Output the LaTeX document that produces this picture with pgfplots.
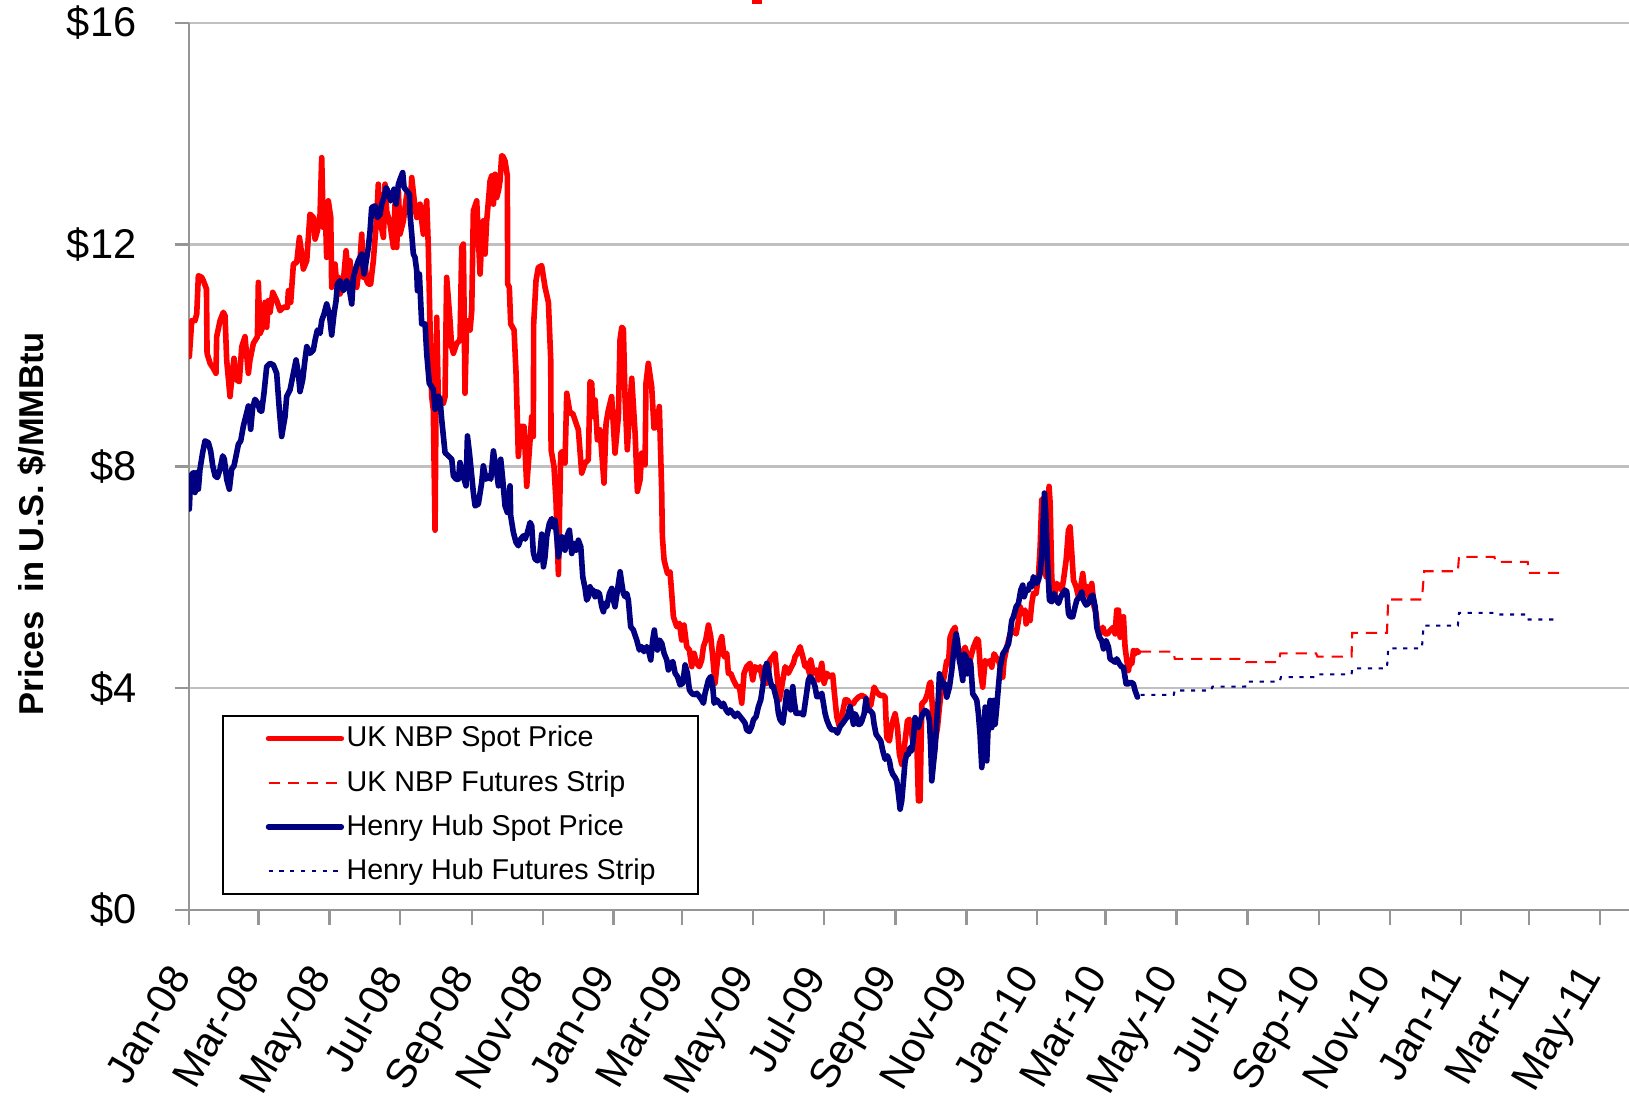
\documentclass[border=0pt]{standalone}
\usepackage{fontspec}
\setmainfont{Liberation Sans}
\usepackage{pgfplots}
\pgfplotsset{compat=1.18}
\definecolor{nbpred}{RGB}{255,0,0}
\definecolor{hhnavy}{RGB}{0,0,128}
\definecolor{gridgray}{RGB}{192,192,192}
\definecolor{axisgray}{RGB}{150,150,150}
\begin{document}
\begin{tikzpicture}
\useasboundingbox (-45.5pt,-45.25pt) rectangle (346.5pt,219pt);
\fill[nbpred] (135.5pt,218pt) rectangle (137.75pt,219.5pt);
\begin{axis}[
  at={(0pt,0pt)}, anchor=south west,
  scale only axis, width=346.5pt, height=213.5pt,
  xmin=0, xmax=1241, ymin=0, ymax=16,
  axis x line*=bottom, axis y line*=left,
  axis line style={-, draw=axisgray, line width=0.6pt},
  ytick={0,4,8,12,16},
  yticklabels={\$0,\$4,\$8,\$12,\$16},
  xtick={0,60,121,182,244,305,366,425,486,547,609,670,731,790,851,912,974,1035,1096,1155,1216},
  xticklabels={Jan-08,Mar-08,May-08,Jul-08,Sep-08,Nov-08,Jan-09,Mar-09,May-09,Jul-09,Sep-09,Nov-09,Jan-10,Mar-10,May-10,Jul-10,Sep-10,Nov-10,Jan-11,Mar-11,May-11},
  tick align=outside, major tick length=3.5pt,
  tick style={draw=axisgray, line width=0.6pt},
  ymajorgrids, grid style={draw=gridgray, line width=0.6pt},
  yticklabel style={font=\fontsize{10}{12}\selectfont, anchor=east, inner sep=0pt},
  yticklabel shift=9pt,
  xticklabel style={font=\fontsize{10}{12}\selectfont, xshift=-5.5pt, rotate=60, anchor=north east, inner sep=0pt},
  xticklabel shift=8.75pt,
  legend style={at={(0.0231,0.2201)}, anchor=north west, draw=black, line width=0.5pt, fill=white,
    font=\fontsize{6.9}{8}\selectfont, inner xsep=10.2pt, inner ysep=1.5pt, row sep=2.6pt,
    nodes={inner sep=0pt, text height=6pt, text depth=2pt},
    /tikz/every odd column/.append style={column sep=0.6pt}},
  legend cell align=left,
  legend image code/.code={\draw[#1] (0pt,0pt) -- (17.5pt,0pt);},
  clip=true,
]
% UK NBP spot
\addplot[nbpred, line width=1.35pt, line join=round, line cap=round] coordinates {
(0.2,9.98)(2.3,10.63)(5.1,10.63)(6.6,10.75)(8.0,11.44)(10.9,11.41)(12.3,11.35)(15.0,11.20)(15.5,10.04)(18.1,9.86)
(20.9,9.77)(23.2,9.68)(23.8,10.34)(26.7,10.63)(29.5,10.78)(31.0,10.72)(32.4,9.92)(35.3,9.26)(36.7,9.56)(38.7,9.95)
(41.0,9.56)(43.3,9.53)(45.4,10.16)(48.2,10.34)(51.1,9.68)(52.5,9.92)(55.4,10.22)(58.9,10.34)(59.7,11.32)(61.2,10.40)
(64.0,10.54)(65.5,10.96)(66.9,10.51)(68.3,10.99)(69.8,10.78)(72.1,11.14)(75.5,10.99)(78.4,10.81)(81.3,10.87)(84.7,10.87)
(85.6,11.17)(87.6,10.96)(89.9,11.65)(92.8,11.68)(95.1,12.13)(97.1,11.83)(98.5,11.56)(101.4,11.71)(102.8,12.13)(104.2,12.55)
(107.1,12.49)(108.6,12.10)(110.6,12.25)(112.9,12.55)(114.3,13.57)(115.7,12.31)(117.2,12.76)(118.6,11.77)(120.0,12.79)(122.1,12.49)
(122.9,11.23)(125.8,11.65)(127.2,11.29)(128.7,11.41)(130.1,11.11)(133.0,11.35)(135.3,11.89)(137.3,11.41)(138.7,11.71)(140.2,11.23)
(143.0,11.41)(144.5,11.23)(147.3,11.71)(148.8,12.19)(150.2,11.41)(151.7,11.65)(153.1,11.35)(154.5,11.29)(156.5,11.29)(158.8,11.71)
(161.7,12.49)(163.1,13.09)(164.6,12.43)(167.5,12.13)(168.9,13.09)(170.3,12.61)(173.2,12.37)(176.1,11.95)(177.5,12.73)(179.0,11.95)
(180.4,12.97)(181.8,12.19)(184.7,12.43)(187.6,12.91)(190.4,12.61)(191.9,13.21)(194.7,12.67)(196.2,12.49)(199.1,12.73)(200.5,12.43)
(201.9,12.19)(204.8,12.79)(206.2,11.95)(207.7,10.51)(209.1,9.26)(210.5,9.02)(212.0,6.85)(213.4,10.69)(214.9,9.14)(216.3,9.14)
(219.2,9.14)(220.6,9.26)(222.0,11.41)(224.9,10.63)(226.3,10.16)(227.8,10.04)(230.7,10.22)(233.5,10.28)(235.0,11.95)(236.4,12.01)
(237.8,9.32)(239.3,10.63)(242.2,10.46)(243.6,10.81)(245.0,12.61)(247.9,12.79)(249.3,12.13)(250.8,11.47)(252.2,12.07)(253.6,12.43)
(255.1,11.83)(256.5,12.43)(258.0,12.79)(259.4,13.15)(260.8,13.24)(262.3,12.73)(263.7,13.27)(265.1,12.85)(266.6,12.97)(268.0,13.15)
(269.4,13.60)(270.3,13.60)(272.3,13.51)(274.3,13.24)(274.6,11.29)(276.0,11.23)(277.2,10.57)(280.1,10.46)(281.8,9.68)(283.8,8.18)
(285.8,8.72)(288.7,8.72)(291.0,7.64)(293.3,8.30)(295.3,8.90)(296.7,8.54)(297.0,10.57)(299.0,11.35)(301.0,11.59)(303.9,11.62)
(306.8,11.23)(309.7,10.96)(311.7,9.92)(312.0,8.30)(314.5,8.00)(316.3,7.34)(318.3,6.05)(320.3,8.24)(322.0,8.27)(324.0,8.06)
(325.5,9.32)(328.3,8.96)(330.6,8.96)(335.5,8.66)(338.4,7.88)(341.3,8.06)(344.1,8.12)(345.6,9.53)(347.0,9.50)(348.4,8.90)
(349.9,9.20)(351.9,8.48)(354.2,8.66)(357.6,7.70)(359.4,8.78)(361.4,9.02)(364.2,9.26)(367.1,8.24)(370.0,8.90)(371.4,10.28)
(372.9,10.51)(374.3,10.48)(375.7,9.26)(377.7,8.30)(379.5,8.96)(381.5,9.59)(384.4,8.60)(386.4,7.55)(388.7,7.76)(390.1,8.24)
(393.0,8.03)(393.8,9.50)(395.8,9.86)(398.7,9.44)(400.7,8.69)(403.0,8.72)(405.3,9.08)(407.3,7.58)(407.9,6.74)(409.4,6.31)
(412.3,6.07)(414.5,6.10)(416.0,5.71)(417.4,5.29)(420.3,5.11)(422.6,5.17)(424.6,4.87)(426.6,5.14)(428.9,4.75)(431.2,4.69)
(433.2,4.39)(435.2,4.63)(437.5,4.45)(439.8,4.39)(441.8,4.51)(443.3,4.75)(445.3,4.87)(447.6,5.14)(449.6,4.93)(451.3,4.57)
(453.3,4.09)(454.8,4.39)(457.1,4.81)(459.1,4.93)(461.1,4.57)(463.4,4.63)(464.8,4.27)(466.8,4.27)(469.1,4.15)(472.0,4.03)
(474.3,4.03)(476.3,3.73)(478.3,4.27)(480.6,4.39)(483.5,4.45)(485.8,4.15)(487.8,4.39)(490.7,4.33)(492.1,4.39)(494.4,4.15)
(496.4,4.39)(497.9,4.09)(500.7,4.51)(503.0,4.57)(505.0,4.63)(507.1,4.15)(508.8,3.79)(510.8,4.03)(513.7,4.39)(516.5,4.27)
(518.5,4.36)(520.8,4.45)(522.3,4.57)(524.3,4.63)(526.6,4.75)(528.9,4.57)(530.9,4.39)(532.3,4.45)(534.6,4.27)(535.8,4.51)
(538.1,4.27)(540.4,4.33)(542.4,4.15)(545.3,4.45)(547.3,4.09)(549.6,4.27)(551.9,4.21)(554.7,4.24)(555.9,3.97)(558.2,3.49)
(560.5,3.31)(562.5,3.49)(565.4,3.79)(567.4,3.79)(569.7,3.72)(572.6,3.72)(574.0,3.78)(576.9,3.84)(579.8,3.87)(582.6,3.84)
(585.5,3.72)(587.5,3.69)(590.4,4.02)(592.7,3.93)(595.6,3.87)(598.4,3.87)(599.9,3.84)(601.3,3.11)(603.6,3.05)(605.6,3.35)
(608.5,3.54)(610.5,3.29)(612.2,2.81)(614.2,2.63)(615.7,2.81)(617.1,3.05)(619.1,3.41)(620.8,3.44)(622.9,3.17)(624.3,2.93)
(625.7,3.29)(627.2,3.05)(628.6,1.97)(630.0,1.97)(631.5,3.72)(634.3,3.78)(636.4,3.90)(638.1,4.08)(639.2,4.11)(641.0,3.54)
(643.0,3.05)(645.0,3.29)(646.7,3.66)(648.7,4.02)(650.7,4.20)(653.0,4.50)(654.5,4.44)(655.9,4.92)(658.2,5.04)(660.2,5.10)
(662.2,4.68)(664.5,4.50)(667.4,4.68)(668.8,4.74)(670.3,4.62)(671.7,4.38)(673.7,4.56)(676.0,4.74)(678.9,4.89)(680.3,4.86)
(682.3,4.26)(684.0,4.02)(686.1,4.50)(688.1,4.44)(690.4,4.50)(691.8,4.38)(693.8,4.62)(695.5,4.56)(697.5,4.50)(699.6,4.38)
(701.3,4.20)(702.4,4.50)(704.2,4.68)(706.2,4.86)(707.6,4.98)(710.5,5.04)(712.8,4.98)(714.8,5.22)(716.2,5.47)(718.5,5.35)
(720.5,5.41)(721.4,5.16)(723.4,5.29)(724.8,5.22)(726.3,5.53)(727.7,5.71)(730.0,5.71)(732.0,6.01)(733.5,6.55)(734.9,7.40)
(736.9,7.03)(738.6,6.01)(739.8,6.79)(741.2,7.64)(742.1,7.34)(743.5,6.01)(745.0,5.59)(746.4,5.71)(747.8,5.89)(750.1,5.83)
(752.1,5.77)(753.6,5.95)(755.9,6.31)(757.9,6.85)(759.3,6.91)(760.8,6.43)(762.2,5.95)(764.5,5.83)(766.5,5.65)(768.5,5.83)
(770.2,6.07)(772.2,5.71)(774.3,5.83)(776.0,5.59)(778.0,5.89)(780.0,5.47)(781.7,5.35)(782.9,5.10)(785.2,4.98)(787.5,5.10)
(789.5,4.98)(791.5,4.98)(793.8,5.04)(795.2,5.07)(796.7,5.10)(798.1,4.98)(799.5,5.41)(801.0,5.41)(802.4,4.92)(803.9,5.16)
(805.3,5.29)(806.7,4.74)(808.2,4.50)(809.6,4.32)(811.0,4.50)(812.5,4.44)(813.9,4.68)(815.3,4.62)(816.8,4.68)(818.2,4.65)
};
\addlegendentry{UK NBP Spot Price}
% UK NBP futures strip
\addplot[nbpred, line width=0.5pt, dash pattern=on 2.7pt off 1.9pt] coordinates {
(819.5,4.66)(848.6,4.66)(849.5,4.53)(910.2,4.53)(911,4.47)(939.3,4.47)(940.5,4.63)(971.3,4.63)(972.5,4.57)(1001.9,4.57)
(1002.5,5.00)(1032.4,5.00)(1033.5,5.60)(1062.5,5.60)(1064.5,6.11)(1093.5,6.11)(1094.5,6.37)(1125,6.37)(1126,6.28)(1153.7,6.28)
(1154.5,6.08)(1183,6.08)
};
\addlegendentry{UK NBP Futures Strip}
% Henry Hub spot
\addplot[hhnavy, line width=1.35pt, line join=round, line cap=round] coordinates {
(0.2,7.23)(1.4,7.83)(3.7,7.89)(5.1,7.53)(6.6,7.89)(8.0,7.59)(9.4,7.95)(11.7,8.25)(13.7,8.46)(16.6,8.43)
(18.6,8.28)(20.4,8.01)(22.4,7.83)(24.4,7.80)(26.7,7.95)(29.0,8.19)(30.4,8.13)(32.4,7.77)(34.7,7.59)(36.7,7.95)
(38.7,8.01)(40.5,8.19)(42.5,8.40)(44.5,8.46)(46.8,8.73)(49.7,8.97)(51.1,9.09)(53.1,8.67)(54.8,9.06)(56.8,9.21)
(58.9,9.15)(61.2,9.00)(62.6,9.00)(64.6,9.33)(66.9,9.80)(69.8,9.86)(72.6,9.83)(75.5,9.68)(77.8,9.02)(79.8,8.54)
(82.7,8.90)(84.1,9.26)(87.0,9.38)(89.9,9.68)(92.2,9.92)(94.2,9.68)(95.6,9.35)(97.9,9.56)(99.9,9.92)(101.4,10.16)
(104.2,10.04)(107.1,10.10)(108.6,10.28)(110.6,10.46)(112.9,10.40)(114.3,10.63)(116.3,10.75)(118.6,10.93)(120.9,10.75)(122.9,10.37)
(124.9,10.75)(126.7,10.99)(127.8,11.29)(130.1,11.35)(133.0,11.17)(135.9,11.35)(138.1,11.20)(140.2,10.93)(141.6,11.41)(143.9,11.59)
(145.9,11.71)(148.8,11.83)(150.8,11.47)(152.5,11.68)(154.5,11.95)(156.0,12.25)(157.4,12.67)(160.3,12.70)(162.3,12.49)(164.6,12.55)
(166.0,12.73)(168.0,12.85)(169.8,13.03)(171.8,12.94)(173.8,12.79)(175.5,12.85)(176.6,13.00)(178.4,12.73)(180.4,13.09)(182.4,13.21)
(184.1,13.30)(185.3,13.03)(187.6,12.97)(189.9,12.91)(190.4,12.55)(191.9,12.19)(193.3,11.83)(194.7,11.77)(196.2,11.53)(196.8,11.17)
(198.5,11.47)(200.5,10.57)(203.4,10.57)(204.8,10.04)(207.0,9.50)(210.5,9.39)(212.0,9.03)(214.9,9.27)(216.3,9.21)(217.7,8.85)
(220.6,8.25)(223.5,8.19)(226.4,8.13)(227.8,7.83)(230.1,7.77)(232.1,7.77)(233.5,8.07)(235.8,7.89)(237.0,7.77)(238.7,7.65)
(239.9,8.55)(241.6,8.25)(243.6,7.83)(245.0,7.53)(246.5,7.29)(249.3,7.32)(252.2,7.71)(253.6,8.01)(256.0,7.77)(258.0,7.83)
(260.0,7.77)(262.3,8.28)(263.7,8.07)(265.1,7.89)(266.6,7.65)(268.6,8.13)(270.3,7.77)(272.3,7.29)(274.3,7.17)(276.6,7.65)
(277.2,7.11)(279.5,6.81)(281.8,6.63)(283.8,6.57)(285.8,6.69)(288.1,6.75)(289.6,6.69)(291.6,6.81)(293.9,6.99)(295.3,6.93)
(296.7,6.45)(298.2,6.33)(300.2,6.30)(301.9,6.33)(303.9,6.78)(305.4,6.19)(306.8,6.37)(308.2,6.73)(310.5,6.97)(312.6,7.06)
(314.0,6.91)(315.4,7.03)(316.9,6.73)(318.3,6.37)(319.7,6.55)(321.2,6.73)(322.6,6.61)(324.0,6.49)(325.5,6.73)(327.8,6.85)
(329.8,6.43)(331.8,6.61)(333.5,6.49)(335.5,6.67)(337.6,6.55)(339.3,6.01)(341.3,5.80)(342.7,5.59)(344.2,5.65)(345.6,5.83)
(347.0,5.71)(348.5,5.77)(349.9,5.65)(351.3,5.74)(353.6,5.71)(355.7,5.47)(357.1,5.38)(358.5,5.53)(360.0,5.47)(362.3,5.71)
(364.3,5.80)(365.7,5.59)(367.1,5.47)(369.2,5.77)(371.5,6.10)(372.9,5.89)(374.3,5.71)(375.8,5.65)(377.2,5.71)(378.6,5.59)
(380.6,5.11)(382.9,5.05)(385.8,4.87)(388.1,4.69)(390.1,4.75)(392.1,4.66)(394.4,4.75)(395.9,4.69)(397.9,4.51)(399.6,4.87)
(401.0,5.05)(402.5,4.75)(403.6,4.69)(405.4,4.87)(407.4,4.81)(409.4,4.63)(411.7,4.51)(413.1,4.33)(415.1,4.45)(416.9,4.48)
(418.9,4.27)(420.9,4.21)(423.2,4.06)(425.5,4.09)(427.5,4.42)(429.5,4.27)(431.2,3.97)(433.2,3.91)(435.2,3.88)(437.5,3.91)
(439.8,3.85)(441.8,3.79)(443.3,3.73)(444.7,3.91)(446.2,4.03)(447.6,4.15)(449.6,4.21)(451.3,4.03)(452.5,3.73)(454.8,3.79)
(457.1,3.73)(459.1,3.67)(460.5,3.73)(462.8,3.61)(464.8,3.55)(466.3,3.61)(468.6,3.55)(470.6,3.49)(472.6,3.55)(474.9,3.49)
(477.2,3.43)(479.2,3.37)(480.6,3.25)(482.9,3.22)(484.9,3.31)(486.4,3.43)(488.7,3.49)(490.7,3.67)(492.7,3.79)(494.4,4.03)
(496.4,4.33)(497.9,4.45)(499.3,4.33)(500.7,4.15)(502.2,4.03)(503.6,4.03)(505.0,3.91)(506.5,3.79)(507.9,3.55)(509.4,3.43)
(511.7,3.37)(513.7,3.67)(515.1,3.94)(517.4,3.79)(518.5,3.61)(520.3,4.03)(521.4,3.79)(523.1,3.55)(525.2,3.55)(527.2,3.55)
(529.5,3.52)(531.8,3.85)(533.8,4.15)(535.2,4.21)(537.5,4.15)(539.5,4.03)(541.0,3.85)(543.3,3.85)(545.3,3.91)(546.7,3.73)
(548.1,3.55)(549.6,3.43)(551.9,3.31)(553.9,3.25)(556.8,3.25)(558.8,3.19)(561.1,3.31)(563.4,3.37)(565.4,3.43)(567.4,3.49)
(569.7,3.67)(572.6,3.35)(574.0,3.54)(575.4,3.48)(576.9,3.35)(578.3,3.35)(579.8,3.41)(581.8,3.54)(583.5,3.81)(584.6,3.60)
(586.9,3.60)(589.2,3.54)(590.4,3.35)(592.1,3.17)(594.1,3.11)(596.1,3.05)(597.9,2.87)(599.9,2.72)(601.9,2.78)(603.6,2.69)
(604.8,2.54)(606.5,2.45)(608.5,2.39)(609.9,2.33)(611.4,2.09)(612.8,1.82)(614.2,1.97)(615.7,2.33)(617.1,2.69)(618.5,2.81)
(620.0,2.81)(621.4,2.93)(622.9,2.87)(624.3,3.11)(625.7,3.47)(627.2,3.35)(628.6,3.29)(630.0,3.41)(632.3,3.54)(634.3,3.60)
(636.4,3.57)(638.1,3.41)(639.2,2.93)(640.1,2.33)(641.5,2.63)(643.0,2.93)(644.4,3.41)(645.8,3.84)(646.7,4.26)(648.7,4.14)
(650.1,4.02)(651.6,4.08)(653.0,3.84)(655.3,4.02)(657.3,4.32)(659.3,4.74)(661.1,4.98)(662.2,4.86)(663.9,4.50)(665.1,4.38)
(666.8,4.14)(668.0,4.62)(669.7,4.56)(670.8,4.26)(672.6,4.50)(673.7,4.44)(675.4,3.90)(677.4,3.84)(678.9,3.78)(680.3,3.54)
(681.7,3.17)(683.2,2.57)(684.6,2.93)(686.1,3.66)(687.5,2.69)(688.9,3.41)(690.4,3.78)(691.8,3.29)(693.2,3.78)(694.7,3.35)
(696.1,3.66)(697.5,4.02)(699.0,4.38)(701.3,4.62)(703.3,4.68)(704.7,4.74)(706.2,4.80)(707.6,4.98)(709.0,5.22)(710.5,5.29)
(712.8,5.47)(714.8,5.53)(716.8,5.77)(718.5,5.86)(719.7,5.65)(721.4,5.77)(723.4,5.77)(724.8,5.89)(726.3,5.83)(727.7,6.01)
(729.2,5.95)(730.6,5.89)(732.0,5.95)(733.5,6.07)(734.9,6.43)(736.3,7.10)(737.2,7.52)(738.3,7.16)(739.8,6.31)(741.5,5.59)
(743.5,5.56)(745.5,5.71)(747.8,5.59)(749.3,5.53)(751.3,5.65)(753.0,5.71)(755.0,5.77)(756.5,5.74)(757.9,5.35)(759.3,5.29)
(761.6,5.29)(763.6,5.47)(765.1,5.59)(767.4,5.65)(769.4,5.74)(770.8,5.59)(773.1,5.50)(775.1,5.53)(777.1,5.65)(778.9,5.68)
(780.9,5.47)(782.3,5.10)(784.6,4.92)(786.6,4.86)(788.1,4.71)(790.3,4.86)(792.4,4.74)(793.8,4.53)(796.1,4.50)(798.1,4.47)
(799.5,4.53)(801.8,4.44)(803.9,4.38)(805.3,4.38)(807.6,4.08)(809.6,4.08)(811.6,4.11)(813.9,4.08)(815.3,3.96)(817.4,3.84)
};
\addlegendentry{Henry Hub Spot Price}
% Henry Hub futures strip
\addplot[hhnavy, line width=0.5pt, dash pattern=on 1pt off 1.6pt] coordinates {
(820,3.88)(848.6,3.88)(849.5,3.96)(881,3.96)(882,4.03)(910.2,4.03)(911,4.12)(940,4.12)(941,4.20)(971.3,4.20)
(972.5,4.25)(1001.9,4.25)(1002.5,4.36)(1032.4,4.36)(1033.5,4.72)(1062.5,4.72)(1064,5.13)(1093.5,5.13)(1094.5,5.36)(1125,5.36)
(1126,5.33)(1153.7,5.33)(1154.5,5.24)(1180,5.24)
};
\addlegendentry{Henry Hub Futures Strip}
\end{axis}
\node[rotate=90, font=\fontsize{8.3}{10}\selectfont\bfseries] at (-37.75pt,93pt) {Prices\ \ in U.S. \$/MMBtu};
\end{tikzpicture}
\end{document}
